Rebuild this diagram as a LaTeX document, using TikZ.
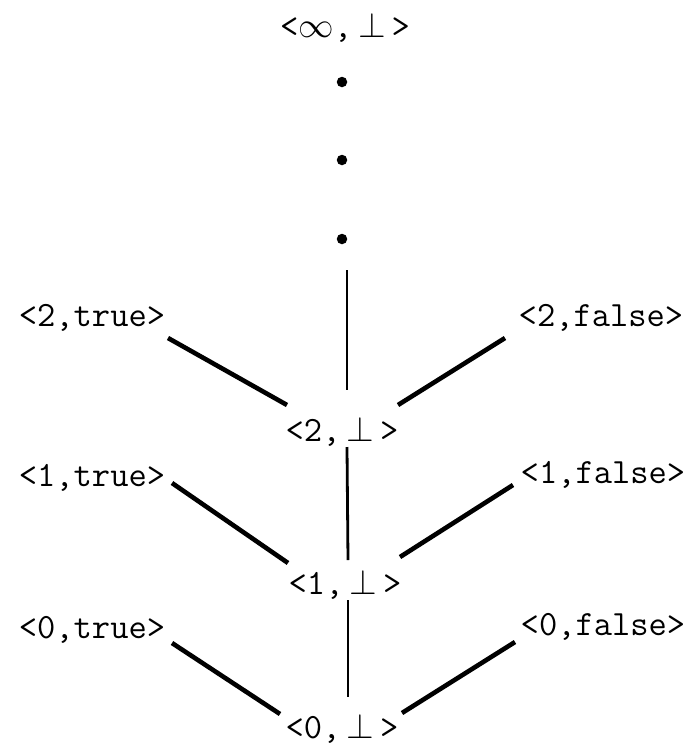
\documentclass[tikz,border=0pt]{standalone}
\usepackage{fix-cm}
\usepackage{fontspec}
\newcommand{\bt}{\ensuremath{\perp}}
\newcommand{\inft}{\ensuremath{\infty}}
\begin{document}
\begin{tikzpicture}[x=1pt,y=-1pt,
  lbl/.style={font=\ttfamily\fontsize{35.5}{36}\selectfont, inner sep=0pt, anchor=center},
  dotn/.style={circle, fill=black, inner sep=0pt, minimum size=10.5pt},
  vline/.style={line width=2.8pt},
  dline/.style={line width=4.6pt}]
\useasboundingbox (0,0) rectangle (689,748);
\node[lbl] (top) at (345,28) {<\inft,\,\bt\,>};
\node[dotn] (d1) at (342,82) {};
\node[dotn] (d2) at (342,160) {};
\node[dotn] (d3) at (342,239) {};
\coordinate (v0) at (347,270);
\node[lbl] (t2) at (92,318) {<2,true>};
\node[lbl] (f2) at (601,318) {<2,false>};
\node[lbl] (b2) at (342,432) {<2,\,\bt\,>};
\node[lbl] (t1) at (92,478) {<1,true>};
\node[lbl] (f1) at (603,475) {<1,false>};
\node[lbl] (b1) at (345,585) {<1,\,\bt\,>};
\node[lbl] (t0) at (92,630) {<0,true>};
\node[lbl] (f0) at (603,627) {<0,false>};
\node[lbl] (b0) at (342,729) {<0,\,\bt\,>};
% verticals
\draw[vline] (v0) -- ([shift={(5,-42)}]b2.center);
\draw[vline] ([shift={(5,15)}]b2.center) -- ([shift={(3,-25)}]b1.center);
\draw[vline] ([shift={(3,15)}]b1.center) -- ([shift={(6,-32)}]b0.center);
% level 2
\draw[dline] ([shift={(76,20)}]t2.center) -- ([shift={(-55,-27)}]b2.center);
\draw[dline] ([shift={(-96,20)}]f2.center) -- ([shift={(56,-27)}]b2.center);
% level 1
\draw[dline] ([shift={(80,5)}]t1.center) -- ([shift={(-57,-22)}]b1.center);
\draw[dline] ([shift={(-90,10)}]f1.center) -- ([shift={(55,-28)}]b1.center);
% level 0
\draw[dline] ([shift={(80,13)}]t0.center) -- ([shift={(-62,-15)}]b0.center);
\draw[dline] ([shift={(-88,15)}]f0.center) -- ([shift={(60,-16)}]b0.center);
\end{tikzpicture}
\end{document}
